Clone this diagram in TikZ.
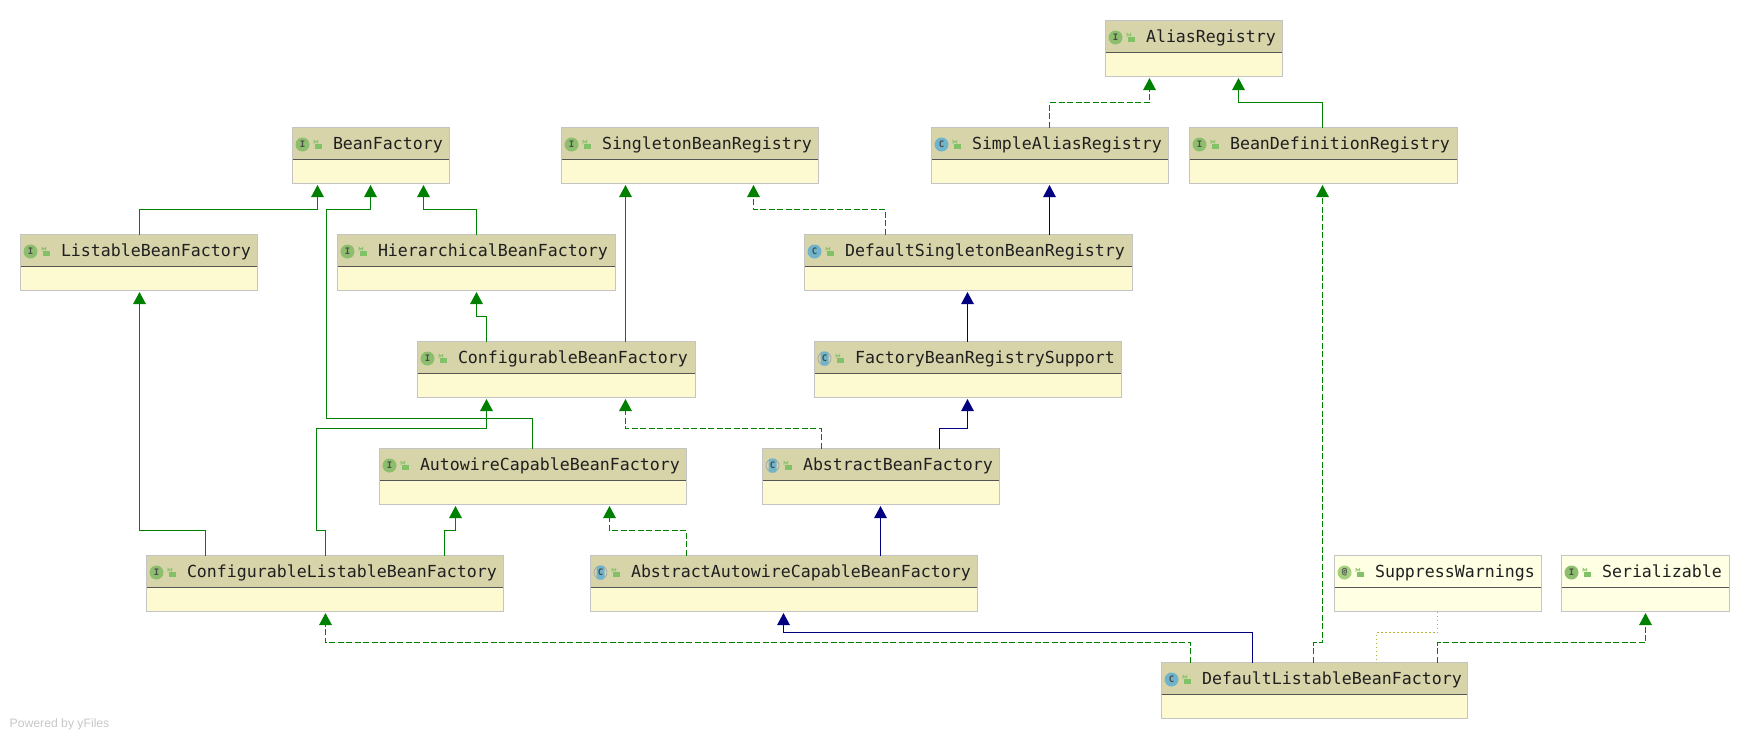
\documentclass[tikz,border=0pt]{standalone}
\usepackage{fontspec}
\setmainfont{Liberation Sans}
\setmonofont{DejaVu Sans Mono}
\usetikzlibrary{arrows.meta}
\definecolor{hdr}{HTML}{D8D4AA}
\definecolor{bdy}{HTML}{FDF9D0}
\definecolor{hdrb}{HTML}{FFFFE4}
\definecolor{bdyb}{HTML}{FFFFE4}
\definecolor{bord}{HTML}{C4C4C4}
\definecolor{sepl}{HTML}{555555}
\definecolor{gline}{HTML}{008000}
\definecolor{bline}{HTML}{000080}
\definecolor{oline}{HTML}{B4B43C}
\definecolor{icI}{HTML}{8DBE6E}
\definecolor{icC}{HTML}{6FB4CA}
\definecolor{icA}{HTML}{A6D080}
\definecolor{lockc}{HTML}{82C266}
\tikzset{
  x=1pt,y=-1pt,
  umlbox/.style={draw=bord,line width=1.2pt,rectangle,inner sep=0pt,outer sep=0pt},
  umltext/.style={anchor=base west,inner sep=0pt,outer sep=0pt,font=\ttfamily\fontsize{16.6}{18}\selectfont,text=black!88},
  iconmark/.style={inner sep=0pt,font=\ttfamily\bfseries\fontsize{9}{9}\selectfont,text=black!70},
  inh/.style={gline,line width=1.4pt,-{Triangle[length=12pt,width=12.5pt]},shorten >=1.5pt},
  impl/.style={inh,dash pattern=on 6pt off 2.5pt},
  ext/.style={bline,line width=1.25pt,-{Triangle[length=12pt,width=12.5pt]},shorten >=1.5pt},
  dots/.style={oline,line width=1.1pt,dash pattern=on 1.2pt off 2.8pt},
}
% name, x0, x1, y0, kind (I C A @), header colour, body colour, text
\newcommand{\umlnode}[8]{%
  \pgfmathsetmacro{\cxx}{(#2+#3)/2+0.5}%
  \pgfmathsetmacro{\wdd}{#3-#2}%
  \pgfmathsetmacro{\cyy}{#4+28.5}%
  \node[umlbox,fill=#7,minimum width=\wdd pt,minimum height=56pt] (#1) at (\cxx,\cyy) {};
  \fill[#6] (#2+1,#4+1) rectangle (#3,#4+32.5);
  \draw[sepl,line width=1pt] (#2+1,#4+32.5) -- (#3,#4+32.5);
  \umlicon{#5}{#2}{#4}%
  \fill[lockc] (#2+23,#4+16.5) rectangle (#2+29.5,#4+21.5);
  \draw[lockc,line width=0.8pt] (#2+22,#4+17) -- (#2+22,#4+13.5) arc[start angle=180,end angle=0,radius=1.9] -- (#2+25.8,#4+16.5);
  \node[umltext] (#1-t) at (#2+41,#4+22) {#8};
}
\newcommand{\umlicon}[3]{%
  \ifx#1I%
    \fill[icI] (#2+10.5,#3+17.5) circle[radius=7];
    \node[iconmark] at (#2+10.5,#3+17.5) {I};
  \else\ifx#1C%
    \fill[icC] (#2+10.5,#3+17.5) circle[radius=7];
    \node[iconmark] at (#2+10.5,#3+17.5) {C};
  \else\ifx#1A%
    \draw[black!35,line width=0.8pt] (#2+10.5,#3+17.5) circle[radius=6.5];
    \fill[icC,rounded corners=2pt] (#2+6.5,#3+10.5) rectangle (#2+14.5,#3+24.5);
    \node[iconmark] at (#2+10.5,#3+17.5) {C};
  \else
    \fill[icA] (#2+10.5,#3+17.5) circle[radius=7];
    \node[iconmark] at (#2+10.5,#3+17.5) {@};
  \fi\fi\fi
}
\begin{document}
\begin{tikzpicture}
\useasboundingbox (0,0) rectangle (1750,739);
\umlnode{ar}{1105}{1282}{20}{I}{hdr}{bdy}{AliasRegistry}
\umlnode{bf}{292}{449}{127}{I}{hdr}{bdy}{BeanFactory}
\umlnode{sbr}{561}{818}{127}{I}{hdr}{bdy}{SingletonBeanRegistry}
\umlnode{sar}{931}{1168}{127}{C}{hdr}{bdy}{SimpleAliasRegistry}
\umlnode{bdr}{1189}{1457}{127}{I}{hdr}{bdy}{BeanDefinitionRegistry}
\umlnode{lbf}{20}{257}{234}{I}{hdr}{bdy}{ListableBeanFactory}
\umlnode{hbf}{337}{615}{234}{I}{hdr}{bdy}{HierarchicalBeanFactory}
\umlnode{dsbr}{804}{1132}{234}{C}{hdr}{bdy}{DefaultSingletonBeanRegistry}
\umlnode{cbf}{417}{695}{341}{I}{hdr}{bdy}{ConfigurableBeanFactory}
\umlnode{fbrs}{814}{1121}{341}{A}{hdr}{bdy}{FactoryBeanRegistrySupport}
\umlnode{acbf}{379}{686}{448}{I}{hdr}{bdy}{AutowireCapableBeanFactory}
\umlnode{abf}{762}{999}{448}{A}{hdr}{bdy}{AbstractBeanFactory}
\umlnode{clbf}{146}{503}{555}{I}{hdr}{bdy}{ConfigurableListableBeanFactory}
\umlnode{aacbf}{590}{977}{555}{A}{hdr}{bdy}{AbstractAutowireCapableBeanFactory}
\umlnode{sw}{1334}{1541}{555}{@}{hdrb}{bdyb}{SuppressWarnings}
\umlnode{ser}{1561}{1729}{555}{I}{hdrb}{bdyb}{Serializable}
\umlnode{dlbf}{1161}{1467}{662}{C}{hdr}{bdy}{DefaultListableBeanFactory}
% connectors
\draw[impl] (1049.5,0 |- sar.north) -- (1049.5,102.5) -| (1149.5,0 |- ar.south);
\draw[inh] (1322.5,0 |- bdr.north) -- (1322.5,102.5) -| (1238.5,0 |- ar.south);
\draw[inh] (139.5,0 |- lbf.north) -- (139.5,209.5) -| (317.5,0 |- bf.south);
\draw[inh] (532.5,0 |- acbf.north) -- (532.5,418.5) -- (326.5,418.5) -- (326.5,209.5) -| (370.5,0 |- bf.south);
\draw[inh] (476.5,0 |- hbf.north) -- (476.5,209.5) -| (423.5,0 |- bf.south);
\draw[inh] (486.5,0 |- cbf.north) -- (486.5,316.5) -| (476.5,0 |- hbf.south);
\draw[inh] (625.5,0 |- cbf.north) -- (625.5,0 |- sbr.south);
\draw[impl] (885.5,0 |- dsbr.north) -- (885.5,209.5) -| (753.5,0 |- sbr.south);
\draw[ext] (1049.5,0 |- dsbr.north) -- (1049.5,0 |- sar.south);
\draw[ext] (967.5,0 |- fbrs.north) -- (967.5,0 |- dsbr.south);
\draw[ext] (939.5,0 |- abf.north) -- (939.5,428.5) -| (967.5,0 |- fbrs.south);
\draw[impl] (821.5,0 |- abf.north) -- (821.5,428.5) -| (625.5,0 |- cbf.south);
\draw[inh] (325.5,0 |- clbf.north) -- (325.5,530.5) -- (316.5,530.5) -- (316.5,428.5) -- (486.5,428.5) -- (486.5,0 |- cbf.south);
\draw[inh] (205.5,0 |- clbf.north) -- (205.5,530.5) -| (139.5,0 |- lbf.south);
\draw[inh] (444.5,0 |- clbf.north) -- (444.5,530.5) -| (455.5,0 |- acbf.south);
\draw[impl] (686.5,0 |- aacbf.north) -- (686.5,530.5) -| (609.5,0 |- acbf.south);
\draw[ext] (880.5,0 |- aacbf.north) -- (880.5,0 |- abf.south);
\draw[impl] (1313.5,0 |- dlbf.north) -- (1313.5,642.5) -| (1322.5,0 |- bdr.south);
\draw[ext] (1252.5,0 |- dlbf.north) -- (1252.5,632.5) -| (783.5,0 |- aacbf.south);
\draw[impl] (1190.5,0 |- dlbf.north) -- (1190.5,642.5) -| (325.5,0 |- clbf.south);
\draw[dots] (1437.5,0 |- sw.south) -- (1437.5,632.5) -| (1376.5,0 |- dlbf.north);
\draw[impl] (1437.5,0 |- dlbf.north) -- (1437.5,642.5) -| (1645.5,0 |- ser.south);
\node[anchor=base west,inner sep=0pt,font=\fontsize{12.2}{14}\selectfont,text=black!22] (yf) at (9.5,727) {Powered by yFiles};
\end{tikzpicture}
\end{document}
